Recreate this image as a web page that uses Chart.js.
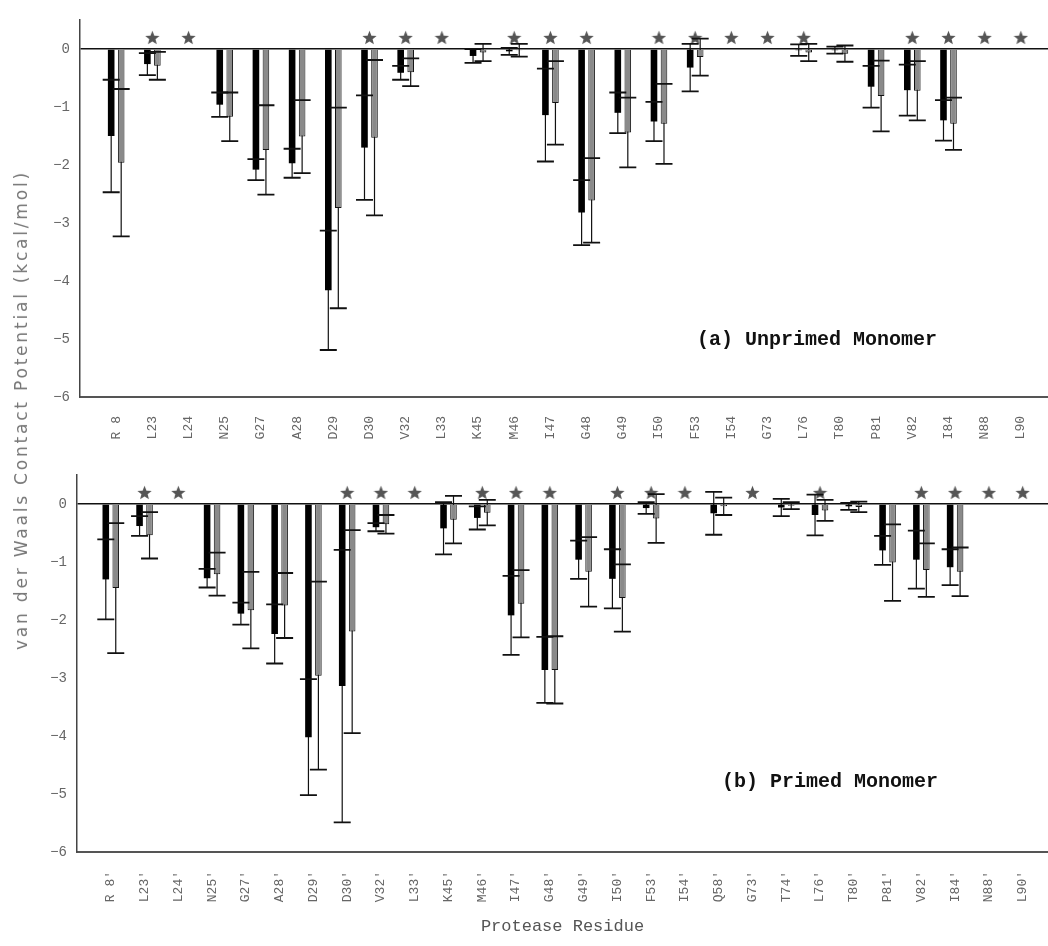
<!DOCTYPE html>
<html>
<head>
<meta charset="utf-8">
<script src="https://cdn.jsdelivr.net/npm/chart.js@4.4.1/dist/chart.umd.min.js"></script>
<style>
  body { margin: 0; background: #fff; overflow: hidden; }
  #page { position: relative; width: 1048px; height: 946px; overflow: hidden; }
  canvas { position: absolute; left: 0; }
  #topChart { top: 0; }
  #bottomChart { top: 460px; }
  .panel-label { position: absolute; font: bold 20px "Liberation Mono", monospace; color: #111; white-space: pre; line-height: 24px; }
  #ytitle {
    position: absolute; left: 21px; top: 410px;
    font: 17px "DejaVu Sans", sans-serif; color: #777; white-space: nowrap; letter-spacing: 2.8px;
    transform: translate(-50%, -50%) rotate(-90deg);
  }
</style>
</head>
<body>
<div id="page">
  <!-- canvases are 8px wider than the page: Chart.js keeps 8px on the right, the reference axis runs to the edge -->
  <canvas id="topChart" width="1056" height="460"></canvas>
  <canvas id="bottomChart" width="1056" height="486"></canvas>
  <div class="panel-label" style="left:697px; top:328px">(a) Unprimed Monomer</div>
  <div class="panel-label" style="left:722px; top:770px">(b) Primed Monomer</div>
  <div id="ytitle">van der Waals Contact Potential (kcal/mol)</div>
</div>
<script>
// (a) unprimed monomer
const unprimedResidues = ['R 8', 'L23', 'L24', 'N25', 'G27', 'A28', 'D29', 'D30', 'V32', 'L33', 'K45', 'M46', 'I47',
  'G48', 'G49', 'I50', 'F53', 'I54', 'G73', 'L76', 'T80', 'P81', 'V82', 'I84', 'N88', 'L90'];
const unprimedBlack = [-1.50, -0.26, null, -0.96, -2.08, -1.97, -4.16, -1.70, -0.41, null, -0.12, -0.04, -1.14,
  -2.82, -1.10, -1.25, -0.32, null, null, -0.02, -0.02, -0.65, -0.71, -1.23, null, null];
const unprimedBlackSd = [0.97, 0.19, null, 0.21, 0.18, 0.25, 1.03, 0.90, 0.12, null, 0.12, 0.06, 0.80,
  0.56, 0.35, 0.34, 0.41, null, null, 0.10, 0.06, 0.36, 0.44, 0.35, null, null];
const unprimedGrey = [-1.96, -0.29, null, -1.17, -1.74, -1.51, -2.74, -1.53, -0.40, null, -0.06, -0.02, -0.93,
  -2.61, -1.44, -1.29, -0.14, null, null, -0.06, -0.08, -0.81, -0.72, -1.29, null, null];
const unprimedGreySd = [1.27, 0.24, null, 0.42, 0.77, 0.63, 1.73, 1.34, 0.24, null, 0.15, 0.11, 0.72,
  0.73, 0.60, 0.69, 0.32, null, null, 0.15, 0.14, 0.61, 0.51, 0.45, null, null];
const unprimedStars = ['L23', 'L24', 'D30', 'V32', 'L33', 'M46', 'I47', 'G48', 'I50', 'F53', 'I54', 'G73',
  'L76', 'V82', 'I84', 'N88', 'L90'];

// (b) primed monomer
const primedResidues = ["R 8'", "L23'", "L24'", "N25'", "G27'", "A28'", "D29'", "D30'", "V32'", "L33'", "K45'",
  "M46'", "I47'", "G48'", "G49'", "I50'", "F53'", "I54'", "Q58'", "G73'", "T74'", "L76'", "T80'", "P81'",
  "V82'", "I84'", "N88'", "L90'"];
const primedBlack = [-1.30, -0.38, null, -1.28, -1.89, -2.24, -4.02, -3.14, -0.40, null, -0.42, -0.24, -1.92,
  -2.86, -0.96, -1.29, -0.07, null, -0.16, null, -0.06, -0.19, -0.04, -0.80, -0.96, -1.09, null, null];
const primedBlackSd = [0.69, 0.17, null, 0.16, 0.19, 0.51, 1.00, 2.35, 0.07, null, 0.45, 0.20, 0.68,
  0.57, 0.33, 0.51, 0.10, null, 0.37, null, 0.15, 0.35, 0.06, 0.25, 0.50, 0.31, null, null];
const primedGrey = [-1.45, -0.54, null, -1.21, -1.83, -1.75, -2.96, -2.20, -0.35, null, -0.27, -0.15, -1.72,
  -2.86, -1.17, -1.62, -0.25, null, -0.04, null, -0.03, -0.11, -0.05, -1.01, -1.14, -1.17, null, null];
const primedGreySd = [1.12, 0.40, null, 0.37, 0.66, 0.56, 1.62, 1.75, 0.16, null, 0.41, 0.22, 0.58,
  0.58, 0.60, 0.58, 0.42, null, 0.15, null, 0.06, 0.18, 0.09, 0.66, 0.46, 0.42, null, null];
const primedStars = ["L23'", "L24'", "D30'", "V32'", "L33'", "M46'", "I47'", "G48'", "I50'", "F53'", "I54'",
  "G73'", "L76'", "V82'", "I84'", "N88'", "L90'"];

const yTicks = [0, -1, -2, -3, -4, -5, -6];
const starLevel = 0.2;

// five pointed star used as point style
function makeStar(size, color) {
  const c = document.createElement('canvas');
  c.width = size; c.height = size;
  const g = c.getContext('2d');
  const cx = size / 2, cy = size / 2 + 0.8, ro = size / 2, ri = size / 4.6;
  g.beginPath();
  for (let k = 0; k < 10; k++) {
    const r = k % 2 === 0 ? ro : ri;
    const a = -Math.PI / 2 + k * Math.PI / 5;
    g.lineTo(cx + r * Math.cos(a), cy + r * Math.sin(a));
  }
  g.closePath();
  g.fillStyle = color;
  g.fill();
  return c;
}
const starImg = makeStar(15, '#555');

// whiskers go under the bars, caps on top of them
function drawErrors(chart, caps) {
  const ctx = chart.ctx;
  const yScale = chart.scales.y;
  chart.data.datasets.forEach((ds, di) => {
    if (ds.type === 'scatter') return;
    const meta = chart.getDatasetMeta(di);
    meta.data.forEach((bar, i) => {
      const p = ds.data[i];
      const top = yScale.getPixelForValue(p.y + p.sd);
      const bot = yScale.getPixelForValue(p.y - p.sd);
      ctx.save();
      ctx.strokeStyle = '#111';
      ctx.beginPath();
      if (caps) {
        ctx.lineWidth = 1.8;
        ctx.moveTo(bar.x - 8.5, top); ctx.lineTo(bar.x + 8.5, top);
        ctx.moveTo(bar.x - 8.5, bot); ctx.lineTo(bar.x + 8.5, bot);
      } else {
        ctx.lineWidth = 1.2;
        ctx.moveTo(bar.x, top); ctx.lineTo(bar.x, bot);
      }
      ctx.stroke();
      ctx.restore();
    });
  });
}

const errorBars = {
  id: 'errorBars',
  beforeDatasetsDraw(chart) { drawErrors(chart, false); },
  afterDatasetsDraw(chart) { drawErrors(chart, true); }
};

function toPoints(means, sds) {
  const pts = [];
  means.forEach((m, i) => {
    if (m !== null) pts.push({ x: i, y: m, sd: sds[i] });
  });
  return pts;
}

function makePanel(id, residues, black, blackSd, grey, greySd, stars, o) {
  const tickFont = { family: '"Liberation Mono", monospace', size: 13 };
  return new Chart(document.getElementById(id), {
    type: 'bar',
    data: {
      datasets: [
        {
          label: 'black',
          data: toPoints(black, blackSd),
          backgroundColor: '#000',
          borderWidth: 0,
          categoryPercentage: o.catPct,
          barPercentage: 0.66
        },
        {
          label: 'grey',
          data: toPoints(grey, greySd),
          backgroundColor: '#8a8a8a',
          borderColor: '#111',
          borderWidth: 1,
          categoryPercentage: o.catPct,
          barPercentage: 0.66
        },
        {
          type: 'scatter',
          label: 'significant',
          data: stars.map(n => ({ x: residues.indexOf(n), y: starLevel })),
          pointStyle: starImg,
          pointRadius: 7
        }
      ]
    },
    options: {
      responsive: false,
      animation: false,
      layout: { padding: { top: o.padTop, left: 0, right: 0, bottom: 0 } },
      plugins: { legend: { display: false }, tooltip: { enabled: false } },
      scales: {
        x: {
          type: 'linear',
          offset: false,
          min: -1,
          max: residues.length - 0.25,
          grid: { display: false, offset: false },
          border: { color: '#555', width: 2 },
          afterBuildTicks: axis => { axis.ticks = residues.map((r, i) => ({ value: i })); },
          afterFit: axis => {
            axis.height = o.xHeight;
            axis.paddingLeft = 0;
            axis.paddingRight = 0;
          },
          ticks: {
            autoSkip: false,
            minRotation: 90,
            maxRotation: 90,
            padding: 11,
            color: '#666',
            font: tickFont,
            callback: v => residues[v]
          },
          title: o.xTitle ? {
            display: true,
            text: o.xTitle,
            color: '#555',
            font: { family: '"Liberation Mono", monospace', size: 17 },
            padding: { top: 0, bottom: 9 }
          } : { display: false }
        },
        y: {
          min: -6,
          max: 0.5,
          afterBuildTicks: axis => { axis.ticks = yTicks.map(v => ({ value: v })); },
          afterFit: axis => {
            axis.width = o.yWidth;
            axis.paddingTop = 0;
            axis.paddingBottom = 0;
          },
          grid: {
            drawTicks: false,
            color: c => (c.tick && c.tick.value === 0 ? '#111' : 'rgba(0,0,0,0)'),
            lineWidth: 1.5
          },
          border: { color: '#444', width: 1.5 },
          ticks: {
            padding: 10,
            color: '#666',
            font: { family: '"Liberation Mono", monospace', size: 14 },
            callback: v => String(v).replace('-', '\u2212')
          }
        }
      }
    },
    plugins: [errorBars]
  });
}

makePanel('topChart', unprimedResidues, unprimedBlack, unprimedBlackSd, unprimedGrey, unprimedGreySd,
  unprimedStars, { catPct: 0.553, padTop: 20, xHeight: 63, yWidth: 80 });
makePanel('bottomChart', primedResidues, primedBlack, primedBlackSd, primedGrey, primedGreySd,
  primedStars, { catPct: 0.59, padTop: 15, xHeight: 94, yWidth: 77, xTitle: 'Protease Residue' });
</script>
</body>
</html>
